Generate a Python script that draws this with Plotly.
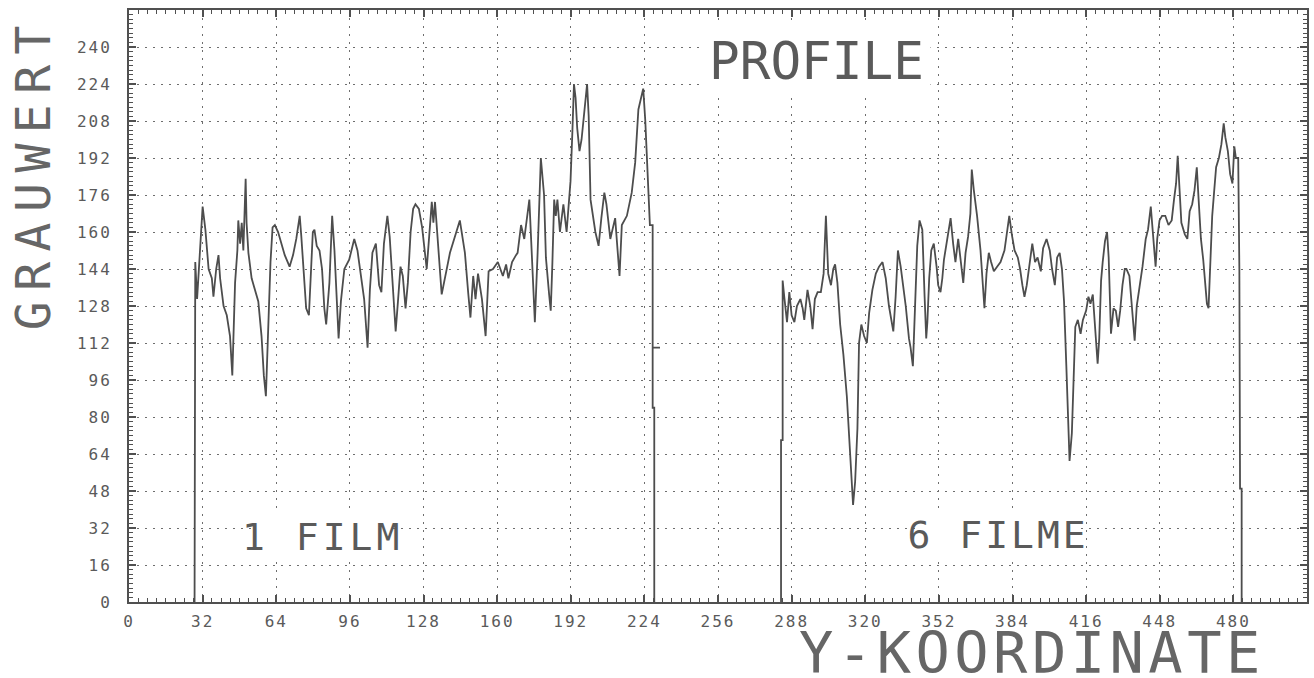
import plotly.graph_objects as go

# ---------------- data ----------------
film1_x = [28.5, 28.8, 29.6, 30.3, 31.0, 32.0, 33.2, 34.6, 36.0, 36.7, 37.9, 38.9, 39.6, 41.1, 42.5,
           43.9, 44.9, 46.1, 47.1, 47.5, 48.3, 49.0, 49.7, 50.7, 51.1, 51.9, 53.3, 54.7, 56.2, 57.6,
           58.6, 59.5, 60.5, 61.5, 62.4, 63.4, 64.8, 66.2, 67.7, 69.8, 71.3, 72.7, 74.2, 74.9, 75.9,
           77.0, 78.2, 79.2, 79.9, 80.6, 81.6, 82.8, 83.9, 84.9, 85.7, 87.1, 88.3, 89.3, 90.3, 91.1,
           92.1, 93.6, 95.7, 97.9, 99.3, 100.8, 102.2, 103.7, 104.7, 105.8, 107.3, 108.7, 109.7, 110.8,
           112.3, 113.3, 114.4, 115.9, 116.9, 118.0, 119.0, 120.2, 121.2, 122.4, 123.5, 124.5, 126.0,
           127.4, 129.4, 131.6, 132.3, 133.0, 135.9, 139.5, 143.8, 146.0, 147.4, 148.4, 149.6, 150.6,
           151.7, 152.4, 153.4, 155.0, 155.6, 156.3, 158.2, 160.3, 162.5, 163.9, 164.9, 166.5, 168.2,
           168.9, 170.4, 171.8, 174.0, 175.4, 176.4, 177.6, 178.3, 179.0, 180.4, 181.2, 182.6, 183.3,
           184.0, 184.8, 185.5, 186.2, 187.3, 188.8, 190.2, 191.2, 191.9, 192.7, 193.4, 194.1, 194.8,
           195.8, 196.7, 197.7, 199.1, 199.8, 200.6, 202.7, 204.1, 205.3, 206.6, 207.5, 209.2, 211.3,
           213.2, 214.2, 216.4, 218.5, 220.0, 221.4, 223.5, 224.4, 225.7, 226.4, 227.6, 227.6, 230.8,
           227.6, 227.6, 228.3, 228.3]
film1_y = [0, 147, 131, 144, 157, 171, 161, 144, 140, 132, 144, 150, 140, 128, 124,
           115, 98, 138, 152, 165, 155, 164, 152, 183, 164, 151, 140, 135, 130, 115,
           98, 89, 118, 147, 162, 163, 160, 155, 150, 145, 150, 157, 167, 158, 141,
           127, 124, 144, 160, 161, 154, 152, 144, 127, 120, 138, 167, 152, 130, 114,
           130, 144, 148, 157, 152, 141, 131, 110, 135, 151, 155, 137, 134, 155,
           167, 158, 141, 117, 130, 145, 141, 127, 138, 160, 170, 172, 170,
           162, 144, 173, 164, 173, 133, 151, 165, 151, 134, 123, 141, 131,
           142, 138, 131, 115, 128, 143, 144, 147, 141, 146, 140, 147, 150,
           151, 163, 157, 174, 146, 121, 151, 176, 192, 176, 149, 133, 126,
           146, 174, 167, 174, 160, 172, 160, 174, 182, 203, 224, 218, 205,
           195, 200, 210, 224, 210, 174, 160, 154, 166, 177, 172, 157, 166,
           141, 163, 167, 177, 190, 213, 222, 208, 180, 163, 163, 110, 110,
           110, 84, 84, 0]

film6_x = [283.4, 283.4, 284.1, 284.1, 284.8, 286.0, 287.0, 288.0, 289.2, 290.3, 291.8, 292.8, 293.5,
           294.9, 296.1, 297.1, 298.1, 299.3, 300.7, 301.9, 302.9, 303.9, 305.1, 306.1, 306.9, 307.9,
           309.1, 310.5, 312.0, 313.0, 314.0, 314.7, 315.6, 316.6, 317.3, 318.3, 319.5, 320.7, 321.7,
           323.1, 324.6, 326.0, 327.5, 328.9, 330.3, 331.4, 332.2, 333.2, 334.2, 335.4, 336.4, 337.6,
           339.0, 339.7, 340.7, 341.9, 342.6, 343.6, 344.8, 345.8, 346.5, 347.0, 347.8, 348.7, 349.8,
           351.0, 351.7, 352.7, 353.5, 354.2, 355.6, 357.1, 358.2, 359.2, 360.4, 361.4, 362.6, 363.6,
           364.7, 365.7, 366.3, 367.2, 368.6, 370.1, 371.2, 371.8, 372.7, 373.7, 374.7, 375.9, 377.3,
           378.8, 380.5, 381.6, 382.6, 383.7, 384.9, 386.3, 387.3, 388.3, 389.2, 390.2, 391.6, 392.6,
           393.8, 394.9, 396.3, 397.3, 398.8, 400.2, 401.2, 402.4, 403.4, 404.5, 405.5, 406.4, 407.4,
           408.1, 408.8, 409.8, 410.7, 411.3, 412.4, 413.6, 414.6, 416.0, 417.0, 417.9, 418.9, 420.0,
           421.0, 421.7, 422.5, 423.2, 424.2, 425.1, 425.8, 426.8, 427.9, 428.9, 429.9, 430.8, 431.8,
           432.8, 433.5, 434.8, 435.8, 436.6, 437.1, 438.0, 439.1, 440.5, 441.9, 442.9, 444.1, 445.2,
           446.2, 446.9, 447.9, 449.0, 450.4, 451.8, 453.2, 454.2, 455.1, 455.8, 456.5, 457.4, 458.9,
           460.0, 461.0, 462.1, 463.1, 464.1, 464.9, 465.9, 466.9, 467.7, 468.5, 469.2, 469.9, 470.8,
           471.6, 472.5, 473.7, 474.8, 475.8, 476.5, 477.6, 478.6, 479.6, 480.4, 481.1, 482.1, 482.6,
           482.9, 483.6, 483.6]
film6_y = [0, 70, 70, 139, 132, 121, 134, 124, 121, 128, 131, 127, 122,
           135, 128, 118, 131, 134, 134, 142, 167, 142, 137, 144, 146, 138,
           120, 107, 89, 71, 52, 42, 52, 75, 112, 120, 115, 112, 125,
           135, 142, 145, 147, 140, 128, 121, 117, 132, 152, 145, 137, 128,
           114, 110, 102, 132, 154, 165, 161, 132, 114, 121, 140, 152, 155,
           145, 137, 134, 140, 148, 157, 166, 155, 147, 157, 148, 138, 151,
           158, 168, 187, 178, 167, 152, 138, 127, 142, 151, 147, 143, 145,
           147, 152, 161, 167, 159, 152, 149, 144, 137, 132, 137, 147, 155,
           147, 149, 143, 153, 157, 152, 144, 137, 149, 151, 144, 130, 102,
           80, 61, 73, 102, 119, 122, 116, 122, 126, 132, 129, 133, 116,
           103, 114, 139, 147, 156, 160, 149, 116, 127, 126, 119, 126, 137,
           144, 144, 141, 130, 118, 113, 128, 135, 145, 157, 161, 171, 159,
           145, 157, 165, 167, 167, 163, 165, 174, 181, 193, 179, 164, 159,
           157, 169, 172, 178, 188, 174, 157, 148, 138, 129, 127, 145, 167,
           177, 188, 192, 198, 207, 201, 195, 185, 181, 197, 192, 192, 144,
           49, 49, 0]

x_ticks = [0, 32, 64, 96, 128, 160, 192, 224, 256, 288, 320, 352, 384, 416, 448, 480]
y_ticks = [0, 16, 32, 48, 64, 80, 96, 112, 128, 144, 160, 176, 192, 208, 224, 240]

# ---------------- styling ----------------
LINE = "#4d4d4d"
FRAME = "#505050"
GRID = "#6e6e6e"
TXT = "#5a5a5a"
MONO = "DejaVu Sans Mono, Liberation Mono, monospace"

fig = go.Figure()
for xs, ys in ((film1_x, film1_y), (film6_x, film6_y)):
    fig.add_trace(go.Scatter(x=xs, y=ys, mode="lines",
                             line=dict(color=LINE, width=1.8),
                             showlegend=False, hoverinfo="skip"))

axis_common = dict(
    showgrid=True, gridcolor=GRID, gridwidth=1.4, griddash="2px,6px",
    zeroline=False, showline=True, linecolor=FRAME, linewidth=2,
    mirror="allticks", ticks="inside", tickcolor=FRAME, tickwidth=1.5,
    tickfont=dict(family=MONO, size=16, color=TXT),
)

fig.update_xaxes(range=[0, 512], tickvals=x_ticks, ticklen=7,
                 minor=dict(dtick=4, tick0=0, ticks="inside", ticklen=4,
                            tickcolor=FRAME, tickwidth=1, showgrid=False),
                 ticklabelstandoff=4, automargin=False, **axis_common)
fig.update_yaxes(range=[0, 256], tickvals=y_ticks, ticklen=7,
                 minor=dict(dtick=2, tick0=0, ticks="inside", ticklen=4,
                            tickcolor=FRAME, tickwidth=1, showgrid=False),
                 ticklabelstandoff=12, automargin=False, **axis_common)

fig.add_annotation(x=298.6, y=233.6, xref="x", yref="y", text="PROFILE",
                   showarrow=False, bgcolor="white", borderpad=6,
                   font=dict(family=MONO, size=51, color=TXT))
fig.add_annotation(x=83.9, y=28.2, xref="x", yref="y", text="1 FILM",
                   showarrow=False, bgcolor="white", borderpad=1,
                   font=dict(family=MONO, size=38, color=TXT))
fig.add_annotation(x=377.7, y=29.0, xref="x", yref="y", text="6 FILME",
                   showarrow=False, bgcolor="white", borderpad=1,
                   font=dict(family=MONO, size=38, color=TXT))
fig.add_annotation(x=-0.0815, y=0.726, xref="paper", yref="paper", text="GRAUWERT",
                   textangle=-90, showarrow=False, xanchor="center", yanchor="middle",
                   font=dict(family=MONO, size=48, color="#666666"))
fig.add_annotation(x=0.7665, y=-0.086, xref="paper", yref="paper", text="Y-KOORDINATE",
                   showarrow=False, xanchor="center", yanchor="middle",
                   font=dict(family=MONO, size=57, color="#666666"))

fig.update_layout(
    width=1314, height=678,
    margin=dict(l=129, r=7, t=10, b=76, autoexpand=False),
    plot_bgcolor="white", paper_bgcolor="white",
)

post = """
document.documentElement.style.margin = '0';
document.body.style.margin = '0';
document.body.style.padding = '0';
var gd = document.getElementById('{plot_id}');
function spc(){
  var map = {'GRAUWERT':'10.5px','Y-KOORDINATE':'4.5px','1 FILM':'4px','6 FILME':'3px'};
  gd.querySelectorAll('.xtick text, .ytick text').forEach(function(t){ t.style.letterSpacing='2px'; });
  gd.querySelectorAll('text.annotation-text').forEach(function(t){
    var s = map[t.textContent]; if (s) { t.style.letterSpacing = s; }
  });
}
spc();
if (gd.on) { gd.on('plotly_afterplot', spc); }
"""

fig.write_html("out.html", post_script=post, config={"displayModeBar": False})
